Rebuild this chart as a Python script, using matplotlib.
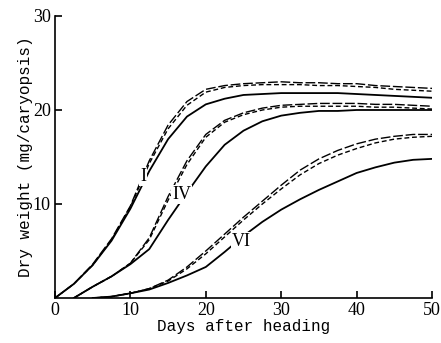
import numpy as np
import matplotlib
matplotlib.use("Agg")
import matplotlib.pyplot as plt

# days after heading
days = [0, 2.5, 5, 7.5, 10, 12.5, 15, 17.5, 20, 22.5, 25, 27.5, 30,
        32.5, 35, 37.5, 40, 42.5, 45, 47.5, 50]
nan = np.nan

# group I
I_long = [0, 1.5, 3.6, 6.3, 9.8, 14.6, 18.4, 20.9, 22.2, 22.6, 22.8, 22.9, 23.0,
          22.9, 22.9, 22.8, 22.8, 22.6, 22.5, 22.4, 22.3]
I_short = [0, 1.5, 3.5, 6.2, 9.7, 14.3, 18.0, 20.5, 21.9, 22.4, 22.6, 22.7, 22.7,
           22.7, 22.6, 22.6, 22.5, 22.4, 22.2, 22.1, 22.0]
I_solid = [0, 1.5, 3.5, 6.1, 9.5, 13.5, 16.9, 19.3, 20.6, 21.2, 21.6, 21.7, 21.8,
           21.8, 21.8, 21.8, 21.7, 21.6, 21.5, 21.4, 21.3]

# group IV
IV_long = [nan, 0, 1.2, 2.3, 3.7, 6.4, 10.8, 14.6, 17.4, 18.9, 19.7, 20.2, 20.5,
           20.6, 20.7, 20.7, 20.7, 20.6, 20.6, 20.5, 20.4]
IV_short = [nan, 0, 1.2, 2.3, 3.7, 6.2, 10.4, 14.2, 17.1, 18.7, 19.5, 20.0, 20.3,
            20.4, 20.4, 20.4, 20.4, 20.3, 20.3, 20.2, 20.1]
IV_solid = [nan, 0, 1.2, 2.3, 3.6, 5.2, 8.3, 11.2, 14.0, 16.3, 17.8, 18.8, 19.4,
            19.7, 19.9, 19.9, 20.0, 20.0, 20.0, 20.0, 20.0]

# group VI
VI_long = [nan, nan, 0, 0.15, 0.5, 1.0, 1.9, 3.3, 5.0, 6.8, 8.6, 10.3, 12.0,
           13.6, 14.8, 15.7, 16.4, 16.9, 17.2, 17.4, 17.4]
VI_short = [nan, nan, 0, 0.15, 0.5, 1.0, 1.8, 3.1, 4.7, 6.5, 8.3, 10.0, 11.6,
            13.1, 14.3, 15.2, 15.9, 16.5, 16.9, 17.1, 17.2]
VI_solid = [nan, nan, 0, 0.15, 0.5, 0.9, 1.6, 2.4, 3.3, 4.9, 6.6, 8.1, 9.4,
            10.5, 11.5, 12.4, 13.3, 13.9, 14.4, 14.7, 14.8]

labels = ["I", "IV", "VI"]
label_pos = [(11.7, 12.9), (16.8, 11.0), (24.7, 6.0)]

fig = plt.figure(figsize=(4.41, 3.43), dpi=100)
ax = fig.add_axes([55 / 441, 45 / 343, 377 / 441, 282 / 343])

for long_, short_, solid_ in [(I_long, I_short, I_solid),
                              (IV_long, IV_short, IV_solid),
                              (VI_long, VI_short, VI_solid)]:
    ax.plot(days, long_, color="black", lw=1.0, dashes=(7, 2))
    ax.plot(days, short_, color="black", lw=1.0, dashes=(3.5, 2))
    ax.plot(days, solid_, color="black", lw=1.3)

for lab, (x, y) in zip(labels, label_pos):
    ax.text(x, y, lab, family="Liberation Serif", fontsize=13,
            ha="center", va="center", zorder=5,
            bbox=dict(facecolor="white", edgecolor="none", pad=0.5))

ax.set_xlim(0, 50)
ax.set_ylim(0, 30)
ax.set_xticks([0, 10, 20, 30, 40, 50])
ax.set_yticks([10, 20, 30])
ax.spines["top"].set_visible(False)
ax.spines["right"].set_visible(False)
for s in ["left", "bottom"]:
    ax.spines[s].set_linewidth(1.2)
ax.tick_params(direction="in", length=5, width=1.2, pad=3)
for t in ax.get_xticklabels() + ax.get_yticklabels():
    t.set_family("Liberation Serif")
    t.set_fontsize(13)

ax.set_xlabel("Days after heading", family="Liberation Mono", fontsize=11.5, labelpad=0)
ax.set_ylabel("Dry weight (mg/caryopsis)", family="Liberation Mono", fontsize=11.5, labelpad=0)

fig.savefig("out.png", dpi=100)
